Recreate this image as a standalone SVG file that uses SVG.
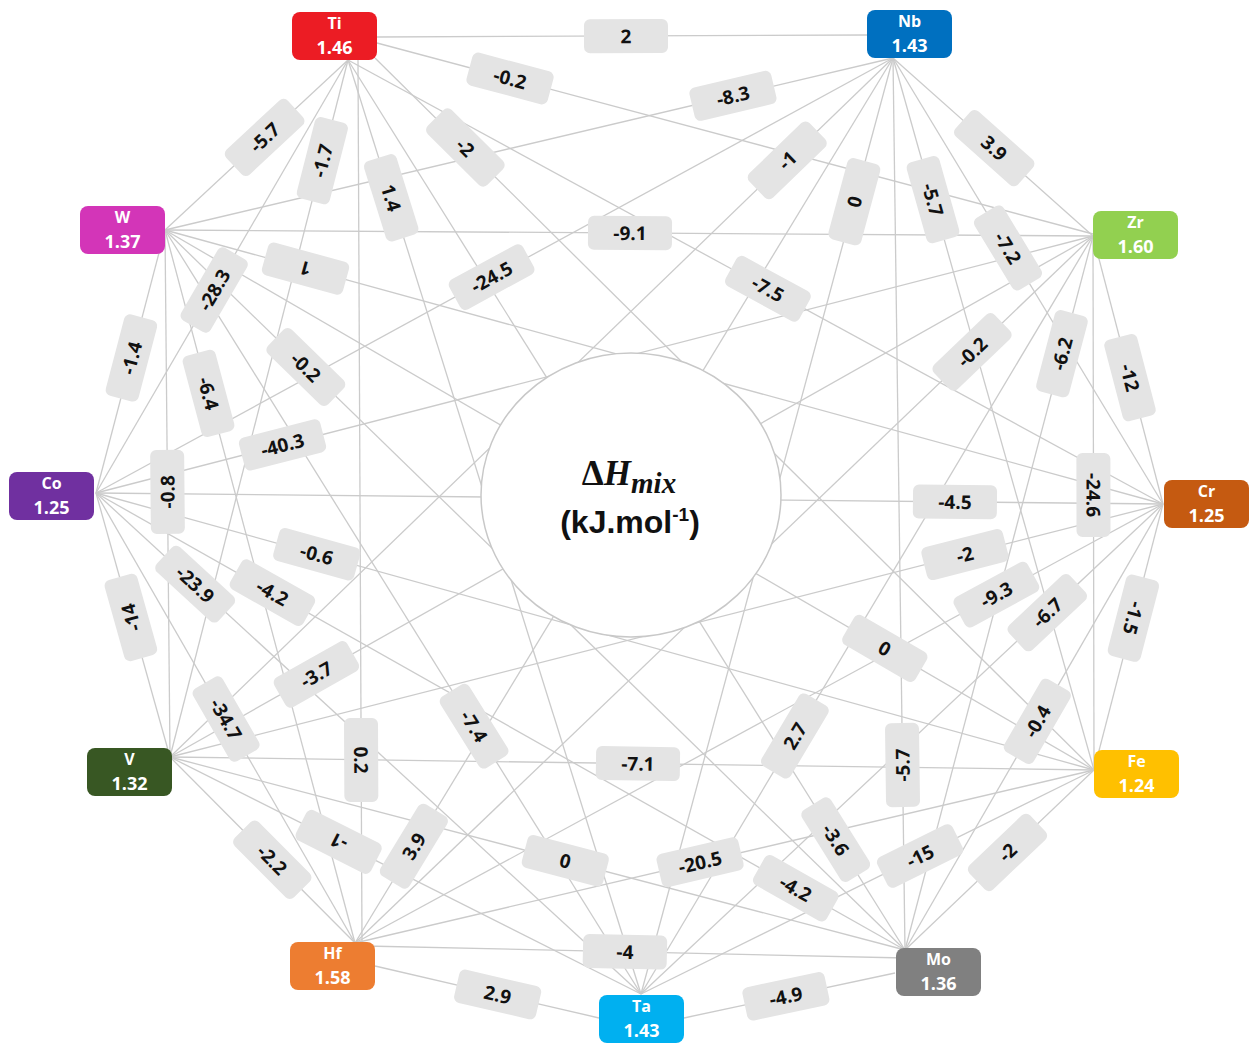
<svg xmlns="http://www.w3.org/2000/svg" width="1254" height="1046" viewBox="0 0 1254 1046">
<style>
.bg{fill:#ffffff}
#connectors line{stroke:#cbcbcb;stroke-width:1.3;fill:none}
.lb rect{fill:#e4e4e4}
.lb text{font-family:"Open Sans","Liberation Sans",sans-serif;font-weight:700;font-size:19px;fill:#111111;text-anchor:middle}
.nd text{font-family:"Open Sans","Liberation Sans",sans-serif;font-weight:700;fill:#ffffff;text-anchor:middle}
.nd .n{font-size:16px}
.nd .v{font-size:18px}
</style>
<rect class="bg" x="0" y="0" width="1254" height="1046"/>
<g id="connectors">
<line x1="377" y1="37" x2="867" y2="35"/>
<line x1="377" y1="43" x2="1093" y2="234"/>
<line x1="348" y1="60" x2="1163" y2="504"/>
<line x1="375" y1="58" x2="1094" y2="770"/>
<line x1="348" y1="60" x2="905" y2="950"/>
<line x1="348" y1="60" x2="641" y2="994"/>
<line x1="358" y1="60" x2="362" y2="943"/>
<line x1="348" y1="60" x2="170" y2="757"/>
<line x1="348" y1="60" x2="96" y2="493"/>
<line x1="348" y1="60" x2="165" y2="230"/>
<line x1="893" y1="58" x2="1093" y2="236"/>
<line x1="893" y1="58" x2="1163" y2="504"/>
<line x1="893" y1="58" x2="1094" y2="770"/>
<line x1="893" y1="58" x2="905" y2="950"/>
<line x1="893" y1="58" x2="641" y2="994"/>
<line x1="893" y1="58" x2="355" y2="943"/>
<line x1="893" y1="58" x2="170" y2="757"/>
<line x1="893" y1="58" x2="96" y2="493"/>
<line x1="893" y1="58" x2="165" y2="230"/>
<line x1="1093" y1="236" x2="1163" y2="504"/>
<line x1="1093" y1="236" x2="1094" y2="770"/>
<line x1="1093" y1="236" x2="905" y2="950"/>
<line x1="1093" y1="236" x2="641" y2="994"/>
<line x1="1093" y1="236" x2="355" y2="943"/>
<line x1="1093" y1="236" x2="170" y2="757"/>
<line x1="1093" y1="236" x2="96" y2="493"/>
<line x1="1093" y1="236" x2="165" y2="230"/>
<line x1="1163" y1="504" x2="1094" y2="770"/>
<line x1="1163" y1="504" x2="905" y2="950"/>
<line x1="1163" y1="504" x2="641" y2="994"/>
<line x1="1163" y1="504" x2="355" y2="943"/>
<line x1="1163" y1="504" x2="170" y2="757"/>
<line x1="1163" y1="504" x2="96" y2="493"/>
<line x1="1163" y1="504" x2="165" y2="230"/>
<line x1="1094" y1="770" x2="905" y2="950"/>
<line x1="1094" y1="770" x2="641" y2="994"/>
<line x1="1094" y1="770" x2="355" y2="943"/>
<line x1="1094" y1="770" x2="170" y2="757"/>
<line x1="1094" y1="770" x2="96" y2="493"/>
<line x1="1094" y1="770" x2="165" y2="230"/>
<line x1="895" y1="973" x2="684" y2="1018"/>
<line x1="905" y1="958" x2="365" y2="946"/>
<line x1="905" y1="950" x2="170" y2="757"/>
<line x1="905" y1="950" x2="96" y2="493"/>
<line x1="905" y1="950" x2="165" y2="230"/>
<line x1="599" y1="1018" x2="375" y2="966"/>
<line x1="641" y1="994" x2="170" y2="757"/>
<line x1="641" y1="994" x2="96" y2="493"/>
<line x1="641" y1="994" x2="165" y2="230"/>
<line x1="355" y1="943" x2="170" y2="757"/>
<line x1="355" y1="943" x2="96" y2="493"/>
<line x1="355" y1="943" x2="165" y2="230"/>
<line x1="170" y1="757" x2="96" y2="493"/>
<line x1="170" y1="757" x2="165" y2="230"/>
<line x1="96" y1="493" x2="165" y2="230"/>
</g>
<g id="center">
<ellipse cx="631" cy="495" rx="150" ry="142" fill="#ffffff" stroke="#c8c8c8" stroke-width="1.5"/>
<text x="629" y="485" font-family="'Liberation Serif','DejaVu Serif',serif" font-weight="bold" font-size="35" fill="#111" text-anchor="middle">Δ<tspan font-style="italic">H</tspan><tspan font-style="italic" font-size="29" dy="8">mix</tspan></text>
<text x="630" y="533" font-family="'Liberation Sans',Arial,sans-serif" font-weight="bold" font-size="32" fill="#111" text-anchor="middle">(kJ.mol<tspan font-size="19" dy="-12">-1</tspan><tspan dy="12">)</tspan></text>
</g>
<g id="labels">
<g class="lb" transform="translate(377 37) rotate(-0.2) translate(249 0)"><rect x="-42" y="-17" width="84" height="34" rx="6"/><text y="7">2</text></g>
<g class="lb" transform="translate(377 43) rotate(14.94) translate(137.7 0)"><rect x="-42" y="-17" width="84" height="34" rx="6"/><text y="7">-0.2</text></g>
<g class="lb" transform="translate(165 230) rotate(-13.29) translate(583.6 0)"><rect x="-42" y="-17" width="84" height="34" rx="6"/><text y="7">-8.3</text></g>
<g class="lb" transform="translate(165 230) rotate(-42.9) translate(136 0)"><rect x="-42" y="-17" width="84" height="34" rx="6"/><text y="7">-5.7</text></g>
<g class="lb" transform="translate(170 757) rotate(-75.67) translate(615.5 0)"><rect x="-42" y="-17" width="84" height="34" rx="6"/><text y="7">-1.7</text></g>
<g class="lb" transform="translate(348 60) rotate(72.58) translate(144.4 0)"><rect x="-42" y="-17" width="84" height="34" rx="6"/><text y="7">1.4</text></g>
<g class="lb" transform="translate(375 58) rotate(44.72) translate(127.2 0)"><rect x="-42" y="-17" width="84" height="34" rx="6"/><text y="7">-2</text></g>
<g class="lb" transform="translate(170 757) rotate(-44.03) translate(858.5 0)"><rect x="-42" y="-17" width="84" height="34" rx="6"/><text y="7">-1</text></g>
<g class="lb" transform="translate(641 994) rotate(-74.93) translate(820.5 0)"><rect x="-42" y="-17" width="84" height="34" rx="6"/><text y="7">0</text></g>
<g class="lb" transform="translate(893 58) rotate(74.24) translate(147.1 0)"><rect x="-42" y="-17" width="84" height="34" rx="6"/><text y="7">-5.7</text></g>
<g class="lb" transform="translate(893 58) rotate(41.67) translate(135.5 0)"><rect x="-42" y="-17" width="84" height="34" rx="6"/><text y="7">3.9</text></g>
<g class="lb" transform="translate(893 58) rotate(58.81) translate(222 0)"><rect x="-42" y="-17" width="84" height="34" rx="6"/><text y="7">-7.2</text></g>
<g class="lb" transform="translate(165 230) rotate(0.37) translate(465 0)"><rect x="-42" y="-17" width="84" height="34" rx="6"/><text y="7">-9.1</text></g>
<g class="lb" transform="translate(96 493) rotate(-28.63) translate(450.7 0)"><rect x="-42" y="-17" width="84" height="34" rx="6"/><text y="7">-24.5</text></g>
<g class="lb" transform="translate(348 60) rotate(28.58) translate(478.2 0)"><rect x="-42" y="-17" width="84" height="34" rx="6"/><text y="7">-7.5</text></g>
<g class="lb" transform="translate(1163 504) rotate(195.35) translate(889.2 0)"><rect x="-42" y="-17" width="84" height="34" rx="6"/><text y="7">1</text></g>
<g class="lb" transform="translate(96 493) rotate(-59.8) translate(234.9 0)"><rect x="-42" y="-17" width="84" height="34" rx="6"/><text y="7">-28.3</text></g>
<g class="lb" transform="translate(96 493) rotate(-75.3) translate(139.6 0)"><rect x="-42" y="-17" width="84" height="34" rx="6"/><text y="7">-1.4</text></g>
<g class="lb" transform="translate(165 230) rotate(75.08) translate(169.1 0)"><rect x="-42" y="-17" width="84" height="34" rx="6"/><text y="7">-6.4</text></g>
<g class="lb" transform="translate(165 230) rotate(44.22) translate(196.5 0)"><rect x="-42" y="-17" width="84" height="34" rx="6"/><text y="7">-0.2</text></g>
<g class="lb" transform="translate(96 493) rotate(-14.46) translate(192.6 0)"><rect x="-42" y="-17" width="84" height="34" rx="6"/><text y="7">-40.3</text></g>
<g class="lb" transform="translate(170 757) rotate(-90.54) translate(265.1 0)"><rect x="-42" y="-17" width="84" height="34" rx="6"/><text y="7">-0.8</text></g>
<g class="lb" transform="translate(96 493) rotate(15.51) translate(229.1 0)"><rect x="-42" y="-17" width="84" height="34" rx="6"/><text y="7">-0.6</text></g>
<g class="lb" transform="translate(170 757) rotate(-105.66) translate(144.9 0)"><rect x="-42" y="-17" width="84" height="34" rx="6"/><text y="7">-14</text></g>
<g class="lb" transform="translate(96 493) rotate(42.59) translate(134.7 0)"><rect x="-42" y="-17" width="84" height="34" rx="6"/><text y="7">-23.9</text></g>
<g class="lb" transform="translate(96 493) rotate(29.46) translate(202.6 0)"><rect x="-42" y="-17" width="84" height="34" rx="6"/><text y="7">-4.2</text></g>
<g class="lb" transform="translate(170 757) rotate(-29.44) translate(168.1 0)"><rect x="-42" y="-17" width="84" height="34" rx="6"/><text y="7">-3.7</text></g>
<g class="lb" transform="translate(96 493) rotate(60.08) translate(260.8 0)"><rect x="-42" y="-17" width="84" height="34" rx="6"/><text y="7">-34.7</text></g>
<g class="lb" transform="translate(355 943) rotate(-43.77) translate(854.5 0)"><rect x="-42" y="-17" width="84" height="34" rx="6"/><text y="7">-0.2</text></g>
<g class="lb" transform="translate(905 950) rotate(-75.25) translate(616.6 0)"><rect x="-42" y="-17" width="84" height="34" rx="6"/><text y="7">-6.2</text></g>
<g class="lb" transform="translate(1093 236) rotate(75.36) translate(146.4 0)"><rect x="-42" y="-17" width="84" height="34" rx="6"/><text y="7">-12</text></g>
<g class="lb" transform="translate(96 493) rotate(0.59) translate(859 0)"><rect x="-42" y="-17" width="84" height="34" rx="6"/><text y="7">-4.5</text></g>
<g class="lb" transform="translate(1093 236) rotate(89.9) translate(259 0)"><rect x="-42" y="-17" width="84" height="34" rx="6"/><text y="7">-24.6</text></g>
<g class="lb" transform="translate(170 757) rotate(-14.29) translate(820.3 0)"><rect x="-42" y="-17" width="84" height="34" rx="6"/><text y="7">-2</text></g>
<g class="lb" transform="translate(355 943) rotate(-28.51) translate(729.9 0)"><rect x="-42" y="-17" width="84" height="34" rx="6"/><text y="7">-9.3</text></g>
<g class="lb" transform="translate(641 994) rotate(-43.19) translate(557.2 0)"><rect x="-42" y="-17" width="84" height="34" rx="6"/><text y="7">-6.7</text></g>
<g class="lb" transform="translate(1163 504) rotate(104.54) translate(118 0)"><rect x="-42" y="-17" width="84" height="34" rx="6"/><text y="7">-1.5</text></g>
<g class="lb" transform="translate(905 950) rotate(-59.95) translate(264.2 0)"><rect x="-42" y="-17" width="84" height="34" rx="6"/><text y="7">-0.4</text></g>
<g class="lb" transform="translate(165 230) rotate(30.17) translate(832.6 0)"><rect x="-42" y="-17" width="84" height="34" rx="6"/><text y="7">0</text></g>
<g class="lb" transform="translate(905 950) rotate(-43.6) translate(141.5 0)"><rect x="-42" y="-17" width="84" height="34" rx="6"/><text y="7">-2</text></g>
<g class="lb" transform="translate(641 994) rotate(-26.31) translate(311.3 0)"><rect x="-42" y="-17" width="84" height="34" rx="6"/><text y="7">-15</text></g>
<g class="lb" transform="translate(905 950) rotate(-90.77) translate(185 0)"><rect x="-42" y="-17" width="84" height="34" rx="6"/><text y="7">-5.7</text></g>
<g class="lb" transform="translate(641 994) rotate(-59.19) translate(300.4 0)"><rect x="-42" y="-17" width="84" height="34" rx="6"/><text y="7">2.7</text></g>
<g class="lb" transform="translate(348 60) rotate(57.97) translate(919.6 0)"><rect x="-42" y="-17" width="84" height="34" rx="6"/><text y="7">-3.6</text></g>
<g class="lb" transform="translate(96 493) rotate(29.46) translate(803.6 0)"><rect x="-42" y="-17" width="84" height="34" rx="6"/><text y="7">-4.2</text></g>
<g class="lb" transform="translate(355 943) rotate(-13.18) translate(354.4 0)"><rect x="-42" y="-17" width="84" height="34" rx="6"/><text y="7">-20.5</text></g>
<g class="lb" transform="translate(170 757) rotate(0.81) translate(468 0)"><rect x="-42" y="-17" width="84" height="34" rx="6"/><text y="7">-7.1</text></g>
<g class="lb" transform="translate(170 757) rotate(14.71) translate(408.7 0)"><rect x="-42" y="-17" width="84" height="34" rx="6"/><text y="7">0</text></g>
<g class="lb" transform="translate(365 946) rotate(1.27) translate(260 0)"><rect x="-42" y="-17" width="84" height="34" rx="6"/><text y="7">-4</text></g>
<g class="lb" transform="translate(375 966) rotate(13.07) translate(125.9 0)"><rect x="-42" y="-17" width="84" height="34" rx="6"/><text y="7">2.9</text></g>
<g class="lb" transform="translate(684 1018) rotate(-12.04) translate(104.2 0)"><rect x="-42" y="-17" width="84" height="34" rx="6"/><text y="7">-4.9</text></g>
<g class="lb" transform="translate(355 943) rotate(-58.7) translate(113.3 0)"><rect x="-42" y="-17" width="84" height="34" rx="6"/><text y="7">3.9</text></g>
<g class="lb" transform="translate(641 994) rotate(-153.29) translate(338.5 0)"><rect x="-42" y="-17" width="84" height="34" rx="6"/><text y="7">-1</text></g>
<g class="lb" transform="translate(170 757) rotate(45.15) translate(145 0)"><rect x="-42" y="-17" width="84" height="34" rx="6"/><text y="7">-2.2</text></g>
<g class="lb" transform="translate(358 60) rotate(89.74) translate(700 0)"><rect x="-42" y="-17" width="84" height="34" rx="6"/><text y="7">0.2</text></g>
<g class="lb" transform="translate(165 230) rotate(58.08) translate(584.6 0)"><rect x="-42" y="-17" width="84" height="34" rx="6"/><text y="7">-7.4</text></g>
</g>
<g id="node-Ti" class="nd"><rect x="292" y="12" width="85" height="48" rx="8" fill="#ec1c24"/><text class="n" x="334.5" y="29">Ti</text><text class="v" x="334.5" y="54">1.46</text></g>
<g id="node-Nb" class="nd"><rect x="867" y="10" width="85" height="48" rx="8" fill="#0070c0"/><text class="n" x="909.5" y="27">Nb</text><text class="v" x="909.5" y="52">1.43</text></g>
<g id="node-Zr" class="nd"><rect x="1093" y="211" width="85" height="48" rx="8" fill="#92d050"/><text class="n" x="1135.5" y="228">Zr</text><text class="v" x="1135.5" y="253">1.60</text></g>
<g id="node-Cr" class="nd"><rect x="1164" y="480" width="85" height="48" rx="8" fill="#c55a11"/><text class="n" x="1206.5" y="497">Cr</text><text class="v" x="1206.5" y="522">1.25</text></g>
<g id="node-Fe" class="nd"><rect x="1094" y="750" width="85" height="48" rx="8" fill="#ffc000"/><text class="n" x="1136.5" y="767">Fe</text><text class="v" x="1136.5" y="792">1.24</text></g>
<g id="node-Mo" class="nd"><rect x="896" y="948" width="85" height="48" rx="8" fill="#808080"/><text class="n" x="938.5" y="965">Mo</text><text class="v" x="938.5" y="990">1.36</text></g>
<g id="node-Ta" class="nd"><rect x="599" y="995" width="85" height="48" rx="8" fill="#00b0f0"/><text class="n" x="641.5" y="1012">Ta</text><text class="v" x="641.5" y="1037">1.43</text></g>
<g id="node-Hf" class="nd"><rect x="290" y="942" width="85" height="48" rx="8" fill="#ed7d31"/><text class="n" x="332.5" y="959">Hf</text><text class="v" x="332.5" y="984">1.58</text></g>
<g id="node-V" class="nd"><rect x="87" y="748" width="85" height="48" rx="8" fill="#385723"/><text class="n" x="129.5" y="765">V</text><text class="v" x="129.5" y="790">1.32</text></g>
<g id="node-Co" class="nd"><rect x="9" y="472" width="85" height="48" rx="8" fill="#7030a0"/><text class="n" x="51.5" y="489">Co</text><text class="v" x="51.5" y="514">1.25</text></g>
<g id="node-W" class="nd"><rect x="80" y="206" width="85" height="48" rx="8" fill="#d335b8"/><text class="n" x="122.5" y="223">W</text><text class="v" x="122.5" y="248">1.37</text></g>
</svg>
